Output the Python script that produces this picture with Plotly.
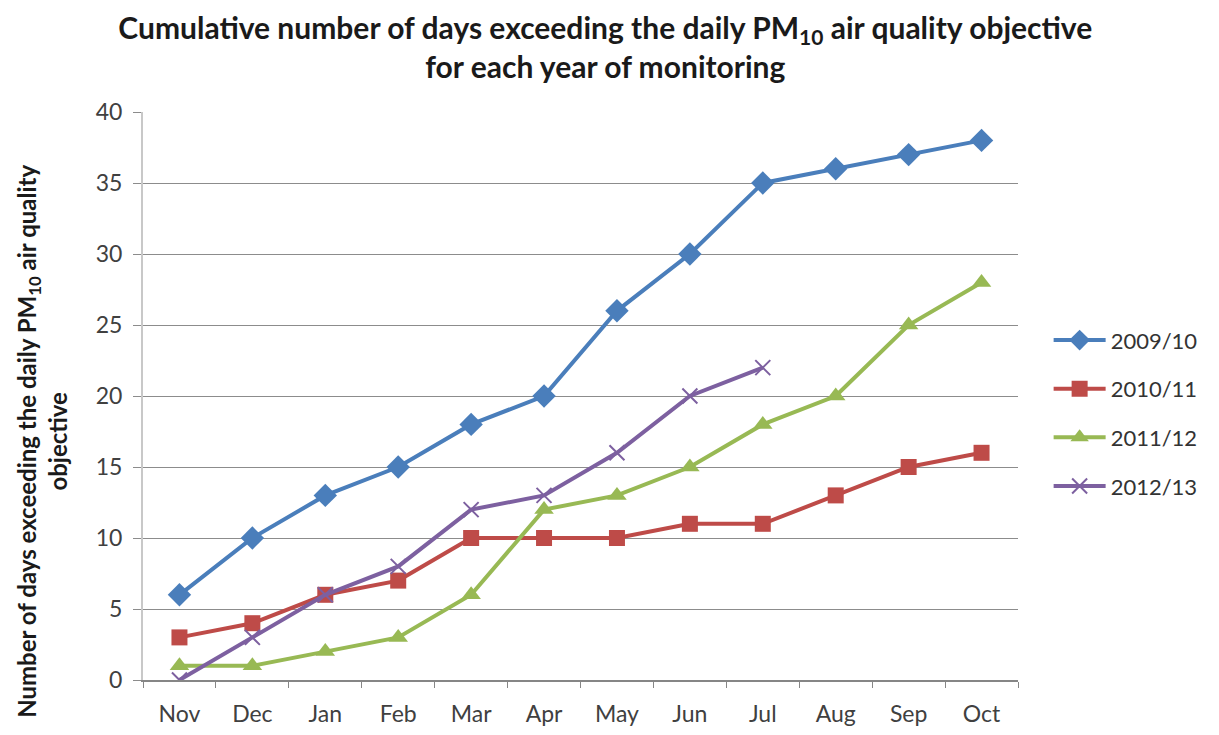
import plotly.graph_objects as go

months = ["Nov", "Dec", "Jan", "Feb", "Mar", "Apr", "May", "Jun", "Jul", "Aug", "Sep", "Oct"]
y2009 = [6, 10, 13, 15, 18, 20, 26, 30, 35, 36, 37, 38]
y2010 = [3, 4, 6, 7, 10, 10, 10, 11, 11, 13, 15, 16]
y2011 = [1, 1, 2, 3, 6, 12, 13, 15, 18, 20, 25, 28]
y2012 = [0, 3, 6, 8, 12, 13, 16, 20, 22]
series_names = ["2009/10", "2010/11", "2011/12", "2012/13"]
y_ticks = [0, 5, 10, 15, 20, 25, 30, 35, 40]

FONT = "Lato, 'Open Sans', Arial, sans-serif"

fig = go.Figure()
styles = [
    (y2009, "#4A7EBB", "diamond", 18, None),
    (y2010, "#BE4B48", "square", 16, None),
    (y2011, "#98B954", "triangle-up", 17, None),
    (y2012, "#7D60A0", "x-thin-open", 15, 2),
]
for i, (vals, col, sym, sz, lw) in enumerate(styles):
    marker = dict(symbol=sym, size=sz, color=col)
    if lw:
        marker["line"] = dict(width=lw, color=col)
    fig.add_trace(go.Scatter(
        x=months[:len(vals)], y=vals, name=series_names[i],
        mode="lines+markers", line=dict(color=col, width=4),
        marker=marker, legendgroup=series_names[i],
    ))

fig.update_layout(
    width=1219, height=735,
    paper_bgcolor="white", plot_bgcolor="white",
    margin=dict(l=135, r=209, t=104, b=63, autoexpand=False),
    font=dict(family=FONT, color="#404040"),
    title=dict(
        text="<b>Cumulative number of days exceeding the daily PM<sub>10</sub> air quality objective<br>for each year of monitoring</b>",
        x=0.49, xanchor="center", y=0.958, yanchor="middle",
        font=dict(size=30, color="#1a1a1a", family=FONT),
    ),
    showlegend=True,
    legend=dict(
        x=1.035, xanchor="left", y=0.635, yanchor="top",
        traceorder="grouped", tracegroupgap=17, itemwidth=52,
        font=dict(size=22, color="#333333"),
        bgcolor="rgba(0,0,0,0)",
    ),
    annotations=[dict(
        text="<b>Number of days exceeding the daily PM<sub>10</sub> air quality<br>objective</b>",
        xref="paper", yref="paper", x=-0.115, y=0.42,
        xanchor="center", yanchor="middle", textangle=-90,
        showarrow=False, font=dict(size=24, color="#1a1a1a", family=FONT),
    )],
)
fig.update_xaxes(
    type="category", categoryorder="array", categoryarray=months,
    range=[-0.5, 11.5], tickson="boundaries",
    showgrid=False, showline=True, linecolor="#868686", linewidth=1.5,
    ticks="outside", ticklen=6, tickcolor="#868686",
    tickfont=dict(size=23, color="#404040"), ticklabelstandoff=13,
)
fig.update_yaxes(
    range=[0, 40], tickmode="array", tickvals=y_ticks,
    showgrid=True, gridcolor="#8c8c8c", gridwidth=1,
    showline=True, linecolor="#c8c8c8", linewidth=2,
    ticks="outside", ticklen=8, tickcolor="#8c8c8c",
    tickfont=dict(size=23, color="#404040"), zeroline=False,
    ticklabelstandoff=6,
)

fig.write_html("out.html")
